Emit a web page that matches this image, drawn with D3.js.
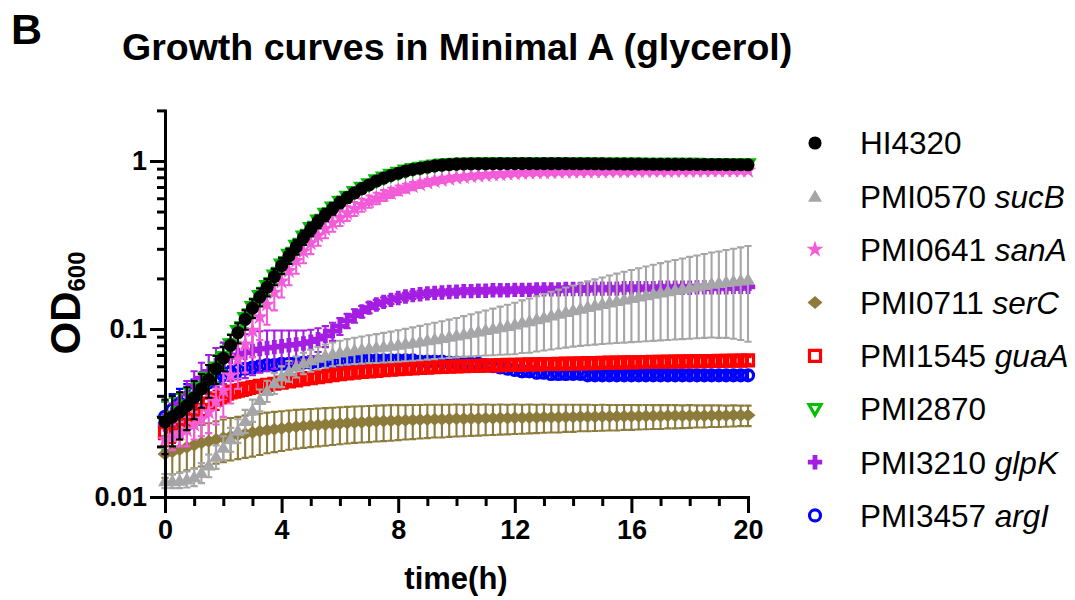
<!DOCTYPE html>
<html>
<head>
<meta charset="utf-8">
<script src="https://cdn.jsdelivr.net/npm/d3@7"></script>
<style>
  body { margin: 0; background: #fff; }
  svg { display: block; font-family: "Liberation Sans", Arial, Helvetica, sans-serif; }
</style>
</head>
<body>
<div id="chart"></div>
<script>
// sampling times (h), one reading every 15 min
const time = [
  0, 0.25, 0.5, 0.75, 1, 1.25, 1.5, 1.75, 2, 2.25, 2.5, 2.75,
  3, 3.25, 3.5, 3.75, 4, 4.25, 4.5, 4.75, 5, 5.25, 5.5, 5.75,
  6, 6.25, 6.5, 6.75, 7, 7.25, 7.5, 7.75, 8, 8.25, 8.5, 8.75,
  9, 9.25, 9.5, 9.75, 10, 10.25, 10.5, 10.75, 11, 11.25, 11.5, 11.75,
  12, 12.25, 12.5, 12.75, 13, 13.25, 13.5, 13.75, 14, 14.25, 14.5, 14.75,
  15, 15.25, 15.5, 15.75, 16, 16.25, 16.5, 16.75, 17, 17.25, 17.5, 17.75,
  18, 18.25, 18.5, 18.75, 19, 19.25, 19.5, 19.75, 20,
];

const hi4320 = [
  0.028, 0.030, 0.032, 0.035, 0.039, 0.044, 0.050, 0.058,
  0.067, 0.080, 0.095, 0.114, 0.133, 0.155, 0.177, 0.205,
  0.238, 0.272, 0.308, 0.350, 0.392, 0.435, 0.478, 0.520,
  0.565, 0.605, 0.645, 0.685, 0.720, 0.760, 0.790, 0.820,
  0.845, 0.870, 0.890, 0.905, 0.920, 0.935, 0.945, 0.952,
  0.958, 0.960, 0.962, 0.963, 0.962, 0.963, 0.964, 0.963,
  0.964, 0.965, 0.964, 0.963, 0.964, 0.965, 0.965, 0.964,
  0.963, 0.962, 0.963, 0.962, 0.961, 0.960, 0.960, 0.959,
  0.958, 0.958, 0.957, 0.956, 0.956, 0.955, 0.955, 0.954,
  0.954, 0.953, 0.953, 0.952, 0.952, 0.951, 0.950, 0.950,
  0.949,
];
const hi4320Sd = [
  0.010, 0.010, 0.010, 0.010, 0.010, 0.010, 0.011, 0.011,
  0.011, 0.012, 0.013, 0.015, 0.017, 0.019, 0.021, 0.023,
  0.026, 0.028, 0.031, 0.034, 0.036, 0.038, 0.040, 0.041,
  0.042, 0.042, 0.042, 0.041, 0.040, 0.038, 0.036, 0.034,
  0.032, 0.030, 0.028, 0.026, 0.024, 0.022, 0.020, 0.019,
  0.018, 0.017, 0.017, 0.016, 0.016, 0.016, 0.015, 0.015,
  0.015, 0.015, 0.015, 0.015, 0.014, 0.014, 0.014, 0.014,
  0.014, 0.014, 0.014, 0.014, 0.014, 0.014, 0.014, 0.014,
  0.014, 0.014, 0.014, 0.014, 0.014, 0.014, 0.014, 0.014,
  0.014, 0.014, 0.014, 0.014, 0.014, 0.014, 0.014, 0.014,
  0.014,
];

const sucB = [
  0.0125, 0.0125, 0.0126, 0.0128, 0.0132, 0.0140, 0.0155, 0.0175,
  0.0198, 0.0222, 0.0250, 0.0285, 0.0330, 0.0380, 0.0430, 0.0478,
  0.0525, 0.0565, 0.0600, 0.0630, 0.0655, 0.0678, 0.0698, 0.0715,
  0.0730, 0.0742, 0.0752, 0.0762, 0.0772, 0.0780, 0.0790, 0.0800,
  0.0810, 0.0822, 0.0835, 0.0848, 0.0862, 0.0876, 0.0890, 0.0905,
  0.0920, 0.0937, 0.0955, 0.0973, 0.0992, 0.101, 0.103, 0.105,
  0.107, 0.110, 0.112, 0.115, 0.118, 0.121, 0.124, 0.127,
  0.130, 0.133, 0.136, 0.139, 0.142, 0.145, 0.148, 0.151,
  0.154, 0.157, 0.160, 0.163, 0.166, 0.169, 0.172, 0.175,
  0.178, 0.181, 0.184, 0.187, 0.189, 0.192, 0.194, 0.196,
  0.198,
];
const sucBSd = [
  0.0012, 0.0012, 0.0013, 0.0014, 0.0016, 0.0019, 0.0024, 0.0028,
  0.0032, 0.0036, 0.0040, 0.0045, 0.0050, 0.0056, 0.0062, 0.0068,
  0.0074, 0.0080, 0.0086, 0.0092, 0.0098, 0.0104, 0.0110, 0.0116,
  0.0122, 0.0128, 0.0134, 0.0140, 0.0146, 0.0152, 0.0158, 0.0165,
  0.0172, 0.0180, 0.0188, 0.0196, 0.0205, 0.0214, 0.0223, 0.0232,
  0.0242, 0.0255, 0.0268, 0.0282, 0.0296, 0.0312, 0.0328, 0.0345,
  0.0362, 0.0380, 0.0398, 0.0416, 0.0435, 0.0455, 0.0475, 0.0495,
  0.0515, 0.0537, 0.0560, 0.0583, 0.0606, 0.0630, 0.0655, 0.0680,
  0.0705, 0.0730, 0.0755, 0.0780, 0.0805, 0.0830, 0.0855, 0.0880,
  0.0905, 0.0930, 0.0955, 0.0980, 0.1005, 0.1035, 0.1065, 0.1100,
  0.1140,
];

const sanA = [
  0.022, 0.023, 0.024, 0.025, 0.027, 0.029, 0.032, 0.037,
  0.043, 0.053, 0.066, 0.081, 0.098, 0.118, 0.140, 0.165,
  0.192, 0.222, 0.255, 0.290, 0.325, 0.360, 0.395, 0.428,
  0.460, 0.490, 0.520, 0.548, 0.575, 0.600, 0.625, 0.648,
  0.670, 0.690, 0.710, 0.728, 0.745, 0.760, 0.773, 0.785,
  0.796, 0.805, 0.813, 0.820, 0.826, 0.832, 0.837, 0.842,
  0.846, 0.850, 0.853, 0.856, 0.858, 0.860, 0.862, 0.864,
  0.865, 0.866, 0.867, 0.868, 0.869, 0.870, 0.871, 0.872,
  0.872, 0.873, 0.873, 0.874, 0.874, 0.875, 0.875, 0.876,
  0.876, 0.876, 0.877, 0.877, 0.877, 0.878, 0.878, 0.878,
  0.878,
];
const sanASd = [
  0.004, 0.004, 0.004, 0.005, 0.005, 0.006, 0.008, 0.010,
  0.013, 0.017, 0.022, 0.026, 0.030, 0.032, 0.034, 0.036,
  0.038, 0.040, 0.042, 0.044, 0.046, 0.047, 0.048, 0.049,
  0.050, 0.050, 0.050, 0.049, 0.048, 0.047, 0.046, 0.045,
  0.044, 0.042, 0.040, 0.038, 0.036, 0.034, 0.032, 0.030,
  0.028, 0.026, 0.025, 0.024, 0.023, 0.022, 0.021, 0.020,
  0.020, 0.019, 0.019, 0.018, 0.018, 0.018, 0.017, 0.017,
  0.017, 0.017, 0.016, 0.016, 0.016, 0.016, 0.016, 0.016,
  0.016, 0.016, 0.016, 0.016, 0.016, 0.016, 0.016, 0.016,
  0.016, 0.016, 0.016, 0.016, 0.016, 0.016, 0.016, 0.016,
  0.016,
];

const serC = [
  0.0180, 0.0186, 0.0192, 0.0198, 0.0204, 0.0210, 0.0215, 0.0220,
  0.0225, 0.0230, 0.0234, 0.0238, 0.0242, 0.0246, 0.0250, 0.0253,
  0.0256, 0.0259, 0.0262, 0.0264, 0.0266, 0.0268, 0.0270, 0.0272,
  0.0274, 0.0276, 0.0278, 0.0279, 0.0280, 0.0282, 0.0283, 0.0284,
  0.0285, 0.0286, 0.0287, 0.0288, 0.0289, 0.0290, 0.0290, 0.0291,
  0.0292, 0.0292, 0.0293, 0.0293, 0.0294, 0.0294, 0.0295, 0.0295,
  0.0296, 0.0296, 0.0297, 0.0297, 0.0298, 0.0298, 0.0298, 0.0299,
  0.0299, 0.0300, 0.0300, 0.0300, 0.0301, 0.0301, 0.0301, 0.0302,
  0.0302, 0.0302, 0.0303, 0.0303, 0.0303, 0.0304, 0.0304, 0.0304,
  0.0305, 0.0305, 0.0305, 0.0306, 0.0306, 0.0306, 0.0307, 0.0307,
  0.0307,
];
const serCSd = [
  0.0050, 0.0050, 0.0052, 0.0054, 0.0056, 0.0058, 0.0060, 0.0062,
  0.0064, 0.0065, 0.0066, 0.0067, 0.0068, 0.0068, 0.0068, 0.0068,
  0.0068, 0.0068, 0.0068, 0.0068, 0.0068, 0.0068, 0.0068, 0.0068,
  0.0068, 0.0068, 0.0068, 0.0068, 0.0068, 0.0068, 0.0068, 0.0068,
  0.0067, 0.0066, 0.0066, 0.0065, 0.0065, 0.0064, 0.0064, 0.0063,
  0.0063, 0.0062, 0.0062, 0.0061, 0.0061, 0.0060, 0.0060, 0.0059,
  0.0059, 0.0058, 0.0058, 0.0057, 0.0057, 0.0056, 0.0056, 0.0055,
  0.0055, 0.0054, 0.0054, 0.0053, 0.0053, 0.0052, 0.0052, 0.0051,
  0.0051, 0.0050, 0.0050, 0.0049, 0.0049, 0.0048, 0.0048, 0.0047,
  0.0047, 0.0046, 0.0046, 0.0045, 0.0045, 0.0044, 0.0044, 0.0043,
  0.0043,
];

const guaA = [
  0.024, 0.025, 0.027, 0.029, 0.031, 0.033, 0.036, 0.038,
  0.040, 0.042, 0.043, 0.044, 0.0450, 0.0458, 0.0465, 0.0472,
  0.0480, 0.0488, 0.0495, 0.0502, 0.0510, 0.0517, 0.0524, 0.0531,
  0.0538, 0.0545, 0.0550, 0.0555, 0.0560, 0.0564, 0.0568, 0.0572,
  0.0576, 0.0580, 0.0583, 0.0586, 0.0589, 0.0592, 0.0594, 0.0596,
  0.0598, 0.0600, 0.0602, 0.0604, 0.0606, 0.0608, 0.0610, 0.0611,
  0.0612, 0.0614, 0.0615, 0.0616, 0.0618, 0.0619, 0.0620, 0.0622,
  0.0623, 0.0624, 0.0626, 0.0627, 0.0628, 0.0630, 0.0631, 0.0632,
  0.0633, 0.0634, 0.0636, 0.0637, 0.0638, 0.0639, 0.0640, 0.0641,
  0.0642, 0.0643, 0.0644, 0.0645, 0.0646, 0.0647, 0.0648, 0.0649,
  0.0650,
];
const guaASd = [
  0.004, 0.004, 0.005, 0.005, 0.005, 0.005, 0.005, 0.005,
  0.004, 0.004, 0.004, 0.004, 0.004, 0.003, 0.003, 0.003,
  0.003, 0.003, 0.003, 0.003, 0.003, 0.003, 0.003, 0.003,
  0.003, 0.003, 0.003, 0.003, 0.003, 0.003, 0.003, 0.003,
  0.003, 0.003, 0.003, 0.003, 0.003, 0.003, 0.003, 0.003,
  0.003, 0.003, 0.003, 0.003, 0.003, 0.003, 0.003, 0.003,
  0.003, 0.003, 0.003, 0.003, 0.003, 0.003, 0.003, 0.003,
  0.003, 0.003, 0.003, 0.003, 0.003, 0.003, 0.003, 0.003,
  0.003, 0.003, 0.003, 0.003, 0.003, 0.003, 0.003, 0.003,
  0.003, 0.003, 0.003, 0.003, 0.003, 0.003, 0.003, 0.003,
  0.003,
];

const pmi2870 = [
  0.028, 0.030, 0.032, 0.035, 0.039, 0.045, 0.051, 0.059,
  0.068, 0.081, 0.097, 0.116, 0.135, 0.157, 0.180, 0.208,
  0.242, 0.276, 0.313, 0.355, 0.398, 0.441, 0.484, 0.527,
  0.572, 0.612, 0.652, 0.692, 0.727, 0.766, 0.796, 0.826,
  0.851, 0.875, 0.895, 0.910, 0.925, 0.940, 0.950, 0.957,
  0.963, 0.965, 0.966, 0.967, 0.967, 0.968, 0.968, 0.968,
  0.969, 0.969, 0.969, 0.968, 0.969, 0.969, 0.969, 0.968,
  0.968, 0.967, 0.967, 0.967, 0.966, 0.966, 0.965, 0.965,
  0.964, 0.964, 0.963, 0.963, 0.962, 0.962, 0.961, 0.961,
  0.960, 0.960, 0.959, 0.959, 0.958, 0.958, 0.957, 0.957,
  0.956,
];
const pmi2870Sd = [
  0.009, 0.009, 0.009, 0.009, 0.009, 0.010, 0.010, 0.011,
  0.011, 0.012, 0.013, 0.015, 0.017, 0.019, 0.021, 0.023,
  0.026, 0.028, 0.031, 0.034, 0.036, 0.038, 0.040, 0.041,
  0.042, 0.042, 0.042, 0.041, 0.040, 0.038, 0.036, 0.034,
  0.032, 0.030, 0.028, 0.026, 0.024, 0.022, 0.020, 0.019,
  0.018, 0.017, 0.017, 0.016, 0.016, 0.016, 0.015, 0.015,
  0.015, 0.015, 0.015, 0.015, 0.014, 0.014, 0.014, 0.014,
  0.014, 0.014, 0.014, 0.014, 0.014, 0.014, 0.014, 0.014,
  0.014, 0.014, 0.014, 0.014, 0.014, 0.014, 0.014, 0.014,
  0.014, 0.014, 0.014, 0.014, 0.014, 0.014, 0.014, 0.014,
  0.014,
];

const glpK = [
  0.027, 0.031, 0.036, 0.041, 0.046, 0.051, 0.056, 0.061,
  0.065, 0.068, 0.070, 0.072, 0.074, 0.076, 0.077, 0.078,
  0.079, 0.080, 0.081, 0.082, 0.084, 0.087, 0.091, 0.097,
  0.104, 0.112, 0.120, 0.127, 0.134, 0.140, 0.145, 0.149,
  0.153, 0.156, 0.159, 0.161, 0.163, 0.164, 0.165, 0.166,
  0.167, 0.168, 0.168, 0.169, 0.169, 0.170, 0.170, 0.170,
  0.171, 0.171, 0.171, 0.172, 0.172, 0.172, 0.172, 0.173,
  0.173, 0.173, 0.173, 0.174, 0.174, 0.174, 0.174, 0.175,
  0.175, 0.175, 0.175, 0.175, 0.176, 0.176, 0.176, 0.176,
  0.176, 0.177, 0.177, 0.177, 0.177, 0.177, 0.178, 0.178,
  0.178,
];
const glpKSd = [
  0.004, 0.005, 0.006, 0.008, 0.010, 0.012, 0.014, 0.016,
  0.018, 0.019, 0.020, 0.021, 0.021, 0.021, 0.021, 0.020,
  0.019, 0.018, 0.017, 0.016, 0.015, 0.014, 0.013, 0.012,
  0.012, 0.011, 0.011, 0.010, 0.010, 0.009, 0.009, 0.008,
  0.008, 0.008, 0.008, 0.008, 0.008, 0.007, 0.007, 0.007,
  0.007, 0.007, 0.007, 0.007, 0.007, 0.007, 0.007, 0.007,
  0.007, 0.007, 0.007, 0.007, 0.007, 0.007, 0.007, 0.007,
  0.007, 0.007, 0.007, 0.007, 0.007, 0.007, 0.007, 0.007,
  0.007, 0.007, 0.007, 0.007, 0.007, 0.007, 0.007, 0.007,
  0.007, 0.007, 0.007, 0.007, 0.007, 0.007, 0.007, 0.007,
  0.007,
];

const argI = [
  0.030, 0.033, 0.036, 0.039, 0.042, 0.045, 0.048, 0.051,
  0.053, 0.055, 0.057, 0.058, 0.059, 0.060, 0.061, 0.061,
  0.062, 0.062, 0.063, 0.063, 0.063, 0.064, 0.064, 0.064,
  0.064, 0.065, 0.065, 0.065, 0.065, 0.065, 0.065, 0.065,
  0.065, 0.065, 0.065, 0.064, 0.064, 0.064, 0.064, 0.063,
  0.063, 0.063, 0.062, 0.062, 0.061, 0.060, 0.059, 0.058,
  0.057, 0.056, 0.056, 0.055, 0.055, 0.054, 0.054, 0.054,
  0.054, 0.054, 0.053, 0.053, 0.053, 0.053, 0.053, 0.053,
  0.053, 0.053, 0.053, 0.053, 0.053, 0.053, 0.053, 0.053,
  0.053, 0.053, 0.053, 0.053, 0.053, 0.053, 0.053, 0.053,
  0.053,
];
const argISd = [
  0.007, 0.008, 0.008, 0.008, 0.008, 0.007, 0.007, 0.006,
  0.006, 0.005, 0.005, 0.004, 0.004, 0.004, 0.004, 0.004,
  0.003, 0.003, 0.003, 0.003, 0.003, 0.003, 0.003, 0.003,
  0.003, 0.003, 0.003, 0.003, 0.003, 0.003, 0.003, 0.003,
  0.003, 0.003, 0.003, 0.003, 0.003, 0.003, 0.003, 0.003,
  0.004, 0.004, 0.004, 0.004, 0.004, 0.004, 0.004, 0.004,
  0.004, 0.004, 0.004, 0.004, 0.004, 0.004, 0.004, 0.004,
  0.003, 0.003, 0.003, 0.003, 0.003, 0.003, 0.003, 0.003,
  0.003, 0.003, 0.003, 0.003, 0.003, 0.003, 0.003, 0.003,
  0.003, 0.003, 0.003, 0.003, 0.003, 0.003, 0.003, 0.003,
  0.003,
];

const strainIds = ['HI4320', 'PMI0570', 'PMI0641', 'PMI0711', 'PMI1545', 'PMI2870', 'PMI3210', 'PMI3457'];
const geneNames = ['', 'sucB', 'sanA', 'serC', 'guaA', '', 'glpK', 'argI'];
const means = [hi4320, sucB, sanA, serC, guaA, pmi2870, glpK, argI];
const sds = [hi4320Sd, sucBSd, sanASd, serCSd, guaASd, pmi2870Sd, glpKSd, argISd];
const colors = ['#000000', '#a6a6a8', '#f35bd8', '#8c7b3a', '#ff0000', '#00c000', '#a41de2', '#0000ff'];
const shapes = ['circle', 'triUp', 'star', 'diamond', 'square', 'triDown', 'cross', 'ring'];

const xTicks = [0, 4, 8, 12, 16, 20];
const xMinorTicks = [1, 2, 3, 5, 6, 7, 9, 10, 11, 13, 14, 15, 17, 18, 19];
const yTicks = [0.01, 0.1, 1];
const yTickLabels = ['0.01', '0.1', '1'];
const yMinorTicks = [0.02, 0.03, 0.04, 0.05, 0.06, 0.07, 0.08, 0.09,
  0.2, 0.3, 0.4, 0.5, 0.6, 0.7, 0.8, 0.9, 2];

const W = 1075;
const H = 600;
const font = '"Liberation Sans", Arial, Helvetica, sans-serif';

const svg = d3.select('#chart').append('svg')
  .attr('width', W)
  .attr('height', H);

const x = d3.scaleLinear().domain([0, 20]).range([165, 748]);
const y = d3.scaleLog().domain([0.01, 2]).range([497, 110.4]);

// symbol paths, all centred on 0,0
const shapePath = (shape) => {
  switch (shape) {
    case 'circle': return d3.symbol(d3.symbolCircle, 135)();
    case 'triUp': return 'M0,-6.5L7,5.5L-7,5.5Z';
    case 'star': return d3.symbol(d3.symbolStar, 90)();
    case 'diamond': return 'M0,-6.5L7.5,0L0,6.5L-7.5,0Z';
    case 'square': return 'M-5.5,-5.5H5.5V5.5H-5.5Z';
    case 'triDown': return 'M-6,-4.5H6L0,6Z';
    case 'cross': return d3.symbol(d3.symbolCross, 115)();
    case 'ring': return d3.symbol(d3.symbolCircle, 95)();
    default: return '';
  }
};
const isOpen = s => s === 'square' || s === 'triDown' || s === 'ring';

const styleSymbol = (sel, shape, color) => {
  sel.attr('d', shapePath(shape))
    .attr('fill', isOpen(shape) ? 'none' : color)
    .attr('stroke', isOpen(shape) ? color : 'none')
    .attr('stroke-width', isOpen(shape) ? 3.2 : 0)
    .attr('stroke-linejoin', 'miter');
};

// data: draw the last legend entry first so HI4320 ends up on top
const plot = svg.append('g').attr('class', 'plot');
d3.range(strainIds.length).reverse().forEach((k) => {
  const pts = time.map((t, i) => ({ t, m: means[k][i], sd: sds[k][i] }));
  const g = plot.append('g').attr('class', `series ${strainIds[k]}`);

  g.selectAll('path.err')
    .data(pts)
    .enter()
    .append('path')
    .attr('class', 'err')
    .attr('d', (d) => {
      const cx = x(d.t);
      const top = y(d.m + d.sd);
      const low = d.m - d.sd > 0.0101 ? y(d.m - d.sd) : y(0.0101);
      return `M${cx},${top}V${low}M${cx - 3.6},${top}H${cx + 3.6}M${cx - 3.6},${low}H${cx + 3.6}`;
    })
    .attr('fill', 'none')
    .attr('stroke', colors[k])
    .attr('stroke-width', 2.1);

  g.selectAll('path.pt')
    .data(pts)
    .enter()
    .append('path')
    .attr('class', 'pt')
    .call(styleSymbol, shapes[k], colors[k])
    .attr('transform', d => `translate(${x(d.t)},${y(d.m)})`);
});

// axes
const axisStyle = (g) => {
  g.attr('font-family', font)
    .attr('font-size', 27)
    .attr('font-weight', 'bold');
  g.selectAll('.domain').attr('stroke-width', 3).attr('stroke-linecap', 'square');
  g.selectAll('.tick line').attr('stroke-width', 3);
  g.selectAll('.tick text').attr('fill', '#000');
};

svg.append('g')
  .attr('transform', 'translate(165,0)')
  .call(d3.axisLeft(y).tickValues(yMinorTicks).tickSize(8).tickFormat(''))
  .call(g => g.select('.domain').remove())
  .call(axisStyle);

svg.append('g')
  .attr('transform', 'translate(0,497)')
  .call(d3.axisBottom(x).tickValues(xMinorTicks).tickSize(9).tickFormat(''))
  .call(g => g.select('.domain').remove())
  .call(axisStyle);

svg.append('g')
  .attr('transform', 'translate(0,497)')
  .call(d3.axisBottom(x).tickValues(xTicks).tickSize(16).tickSizeOuter(0).tickPadding(7))
  .call(axisStyle);

svg.append('g')
  .attr('transform', 'translate(165,0)')
  .call(d3.axisLeft(y).tickValues(yTicks).tickSize(15).tickSizeOuter(0).tickPadding(3)
    .tickFormat((d, i) => yTickLabels[i]))
  .call(axisStyle);

// axis titles
svg.append('text')
  .attr('x', 456)
  .attr('y', 589)
  .attr('text-anchor', 'middle')
  .attr('font-family', font)
  .attr('font-size', 31)
  .attr('font-weight', 'bold')
  .text('time(h)');

const yLabel = svg.append('text')
  .attr('transform', 'translate(80,303) rotate(-90)')
  .attr('text-anchor', 'middle')
  .attr('font-family', font)
  .attr('font-size', 42)
  .attr('font-weight', 'bold');
yLabel.append('tspan').text('OD');
yLabel.append('tspan').attr('font-size', 24).attr('dy', 5).text('600');

// title and panel letter
svg.append('text')
  .attr('x', 122)
  .attr('y', 60)
  .attr('font-family', font)
  .attr('font-size', 37.5)
  .attr('font-weight', 'bold')
  .text('Growth curves in Minimal A (glycerol)');

svg.append('text')
  .attr('x', 11)
  .attr('y', 44)
  .attr('font-family', font)
  .attr('font-size', 43)
  .attr('font-weight', 'bold')
  .text('B');

// legend
const legend = svg.append('g').attr('class', 'legend');
strainIds.forEach((id, k) => {
  const row = legend.append('g').attr('transform', `translate(815,${143 + k * 53.2})`);
  row.append('path').call(styleSymbol, shapes[k], colors[k]);
  const label = row.append('text')
    .attr('x', 45)
    .attr('dy', '0.36em')
    .attr('font-family', font)
    .attr('font-size', 31.5)
    .attr('fill', '#000');
  label.append('tspan').text(id);
  if (geneNames[k]) {
    label.append('tspan').text(' ');
    label.append('tspan').attr('font-style', 'italic').text(geneNames[k]);
  }
});
</script>
</body>
</html>
